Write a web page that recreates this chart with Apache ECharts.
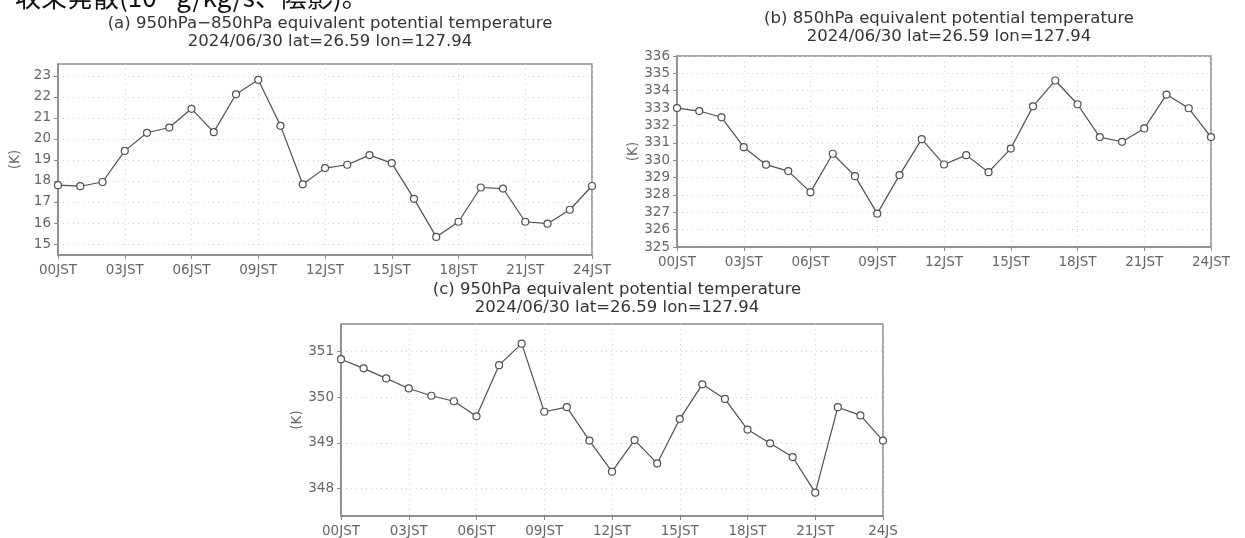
<!DOCTYPE html>
<html lang="ja">
<head>
    <meta charset="UTF-8">
    <title>equivalent potential temperature</title>
    <script src="https://cdn.jsdelivr.net/npm/echarts@6.0.0/dist/echarts.min.js"></script>
    <style>
        html, body { margin: 0; padding: 0; background: #fff; }
        #main { width: 1245px; height: 538px; }
    </style>
</head>
<body>
<div id="main"></div>
<script>
    // hours of 2024/06/30 (JST)
    var hours = ['00','01','02','03','04','05','06','07','08','09','10','11','12',
                 '13','14','15','16','17','18','19','20','21','22','23','24'];

    // (a) 950hPa-850hPa
    var seriesA = [17.80, 17.75, 17.95, 19.43, 20.29, 20.54, 21.43, 20.32, 22.12, 22.81, 20.62, 17.84, 18.61,
                   18.77, 19.23, 18.85, 17.15, 15.34, 16.06, 17.69, 17.64, 16.06, 15.97, 16.63, 17.76];
    // (b) 850hPa
    var seriesB = [333.00, 332.83, 332.47, 330.75, 329.74, 329.37, 328.16, 330.37, 329.08, 326.92, 329.14, 331.21, 329.75,
                   330.29, 329.31, 330.67, 333.10, 334.59, 333.22, 331.33, 331.06, 331.83, 333.78, 332.99, 331.33];
    // (c) 950hPa
    var seriesC = [350.83, 350.63, 350.41, 350.19, 350.03, 349.91, 349.58, 350.70, 351.17, 349.68, 349.78, 349.05, 348.37,
                   349.06, 348.55, 349.52, 350.28, 349.96, 349.29, 348.99, 348.69, 347.91, 349.78, 349.60, 349.05];

    var ticksA = [15, 16, 17, 18, 19, 20, 21, 22, 23];
    var ticksB = [325, 326, 327, 328, 329, 330, 331, 332, 333, 334, 335, 336];
    var ticksC = [348, 349, 350, 351];

    var titleA = '(a) 950hPa\u2212850hPa equivalent potential temperature';
    var titleB = '(b) 850hPa equivalent potential temperature';
    var titleC = '(c) 950hPa equivalent potential temperature';
    var subTitle = '2024/06/30 lat=26.59 lon=127.94';

    var FONT = 'DejaVu Sans';
    var labelColor = '#666';
    var boxColor = '#8a8a8a';

    function xAxisOf(gridIndex, cut) {
        return {
            type: 'category',
            gridIndex: gridIndex,
            data: hours,
            boundaryGap: false,
            axisLine: { show: true, lineStyle: { color: boxColor, width: 1.5 } },
            axisTick: { show: true, interval: 2, length: 4, lineStyle: { color: boxColor } },
            axisLabel: {
                interval: 2,
                margin: 8,
                color: labelColor,
                fontFamily: FONT,
                fontSize: 13.5,
                formatter: function (v) {
                    // panel (c) is cropped at the right edge in the original figure
                    if (cut && v === '24') return '24JS';
                    return v + 'JST';
                }
            },
            splitLine: { show: true, interval: 2, lineStyle: { color: '#d0d0d0', type: [1, 4] } }
        };
    }

    function yAxisOf(gridIndex, ticks, min, max, nameGap) {
        return {
            type: 'value',
            gridIndex: gridIndex,
            min: min,
            max: max,
            name: '(K)',
            nameLocation: 'middle',
            nameRotate: 90,
            nameGap: nameGap,
            nameTextStyle: { color: labelColor, fontFamily: FONT, fontSize: 13.5 },
            axisLine: { show: true, lineStyle: { color: boxColor, width: 1.5 } },
            axisTick: { show: true, length: 4, customValues: ticks, lineStyle: { color: boxColor } },
            axisLabel: { customValues: ticks, margin: 7, color: labelColor, fontFamily: FONT, fontSize: 13.5 },
            splitLine: { show: true, lineStyle: { color: '#d0d0d0', type: [1, 4] } }
        };
    }

    function lineOf(index, data) {
        return {
            type: 'line',
            xAxisIndex: index,
            yAxisIndex: index,
            data: data,
            symbol: 'circle',
            symbolSize: 7,
            showAllSymbol: true,
            clip: false,
            lineStyle: { color: '#505050', width: 1.2 },
            itemStyle: { color: '#fff', borderColor: '#505050', borderWidth: 1.2 },
            animation: false
        };
    }

    function titleOf(text, left, top) {
        return {
            text: text + '\n' + subTitle,
            left: left,
            top: top,
            textAlign: 'center',
            textStyle: { fontFamily: FONT, fontSize: 16.5, fontWeight: 'normal', color: '#333', lineHeight: 18 }
        };
    }

    var option = {
        backgroundColor: '#fff',
        animation: false,
        title: [
            {
                text: '収束発散(10⁻¹g/kg/s、陰影)。',
                left: 10,
                top: -21,
                textStyle: { fontFamily: 'Noto Sans CJK JP', fontSize: 26, fontWeight: 'normal', color: '#111' }
            },
            titleOf(titleA, 325, 10),
            titleOf(titleB, 944, 5),
            titleOf(titleC, 612, 276)
        ],
        grid: [
            { left: 58, top: 64, width: 534, height: 191, show: true, borderColor: boxColor, borderWidth: 1.5, backgroundColor: 'transparent' },
            { left: 677, top: 56, width: 534, height: 191, show: true, borderColor: boxColor, borderWidth: 1.5, backgroundColor: 'transparent' },
            { left: 341, top: 324, width: 542, height: 194, show: true, borderColor: boxColor, borderWidth: 1.5, backgroundColor: 'transparent' }
        ],
        xAxis: [xAxisOf(0, false), xAxisOf(1, false), xAxisOf(2, true)],
        yAxis: [
            yAxisOf(0, ticksA, 14.48, 23.56, 36),
            yAxisOf(1, ticksB, 325, 336, 36),
            yAxisOf(2, ticksC, 347.4, 351.6, 29)
        ],
        series: [lineOf(0, seriesA), lineOf(1, seriesB), lineOf(2, seriesC)]
    };

    var chart = echarts.init(document.getElementById('main'), null, { renderer: 'canvas' });
    chart.setOption(option);
</script>
</body>
</html>
